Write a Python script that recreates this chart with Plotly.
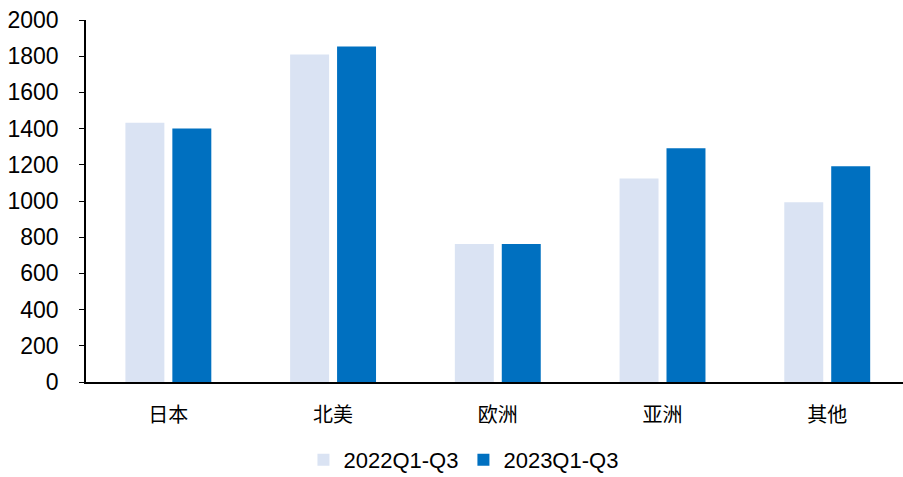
import plotly.graph_objects as go

categories = ["日本", "北美", "欧洲", "亚洲", "其他"]
series_2022 = [1432, 1809, 762, 1125, 993]
series_2023 = [1401, 1853, 762, 1291, 1192]
series_names = ["2022Q1-Q3", "2023Q1-Q3"]
y_ticks = [0, 200, 400, 600, 800, 1000, 1200, 1400, 1600, 1800, 2000]

fig = go.Figure()
fig.add_trace(go.Bar(x=categories, y=series_2022, name=series_names[0],
                     marker=dict(color="#DAE3F3", line=dict(width=0))))
fig.add_trace(go.Bar(x=categories, y=series_2023, name=series_names[1],
                     marker=dict(color="#0070C0", line=dict(width=0))))

fig.update_layout(
    width=903, height=477,
    margin=dict(l=86, r=0, t=20, b=95, autoexpand=False),
    paper_bgcolor="white", plot_bgcolor="white",
    barmode="group", bargap=0.43, bargroupgap=0.17,
    font=dict(family="Liberation Sans, Arial", size=20, color="black"),
    showlegend=True,
    legend=dict(orientation="h", x=0.462, xanchor="center", y=-0.215, yanchor="middle",
                font=dict(size=22, family="Liberation Sans, Arial"),
                itemwidth=30, tracegroupgap=0, traceorder="normal"),
    xaxis=dict(range=[-0.5, 4.46], showline=True, linecolor="black", linewidth=2,
               ticks="", showgrid=False, zeroline=False, automargin=False,
               tickfont=dict(family="Noto Sans CJK SC", size=20, color="black"),
               ticklabelstandoff=14),
    yaxis=dict(range=[0, 2000], tickvals=y_ticks, showline=True, linecolor="black",
               linewidth=1.5, ticks="outside", ticklen=5, tickcolor="black",
               showgrid=False, zeroline=False, automargin=False, ticklabelstandoff=16,
               tickfont=dict(family="Liberation Sans, Arial", size=23, color="black")),
)

fig.write_html("out.html")
